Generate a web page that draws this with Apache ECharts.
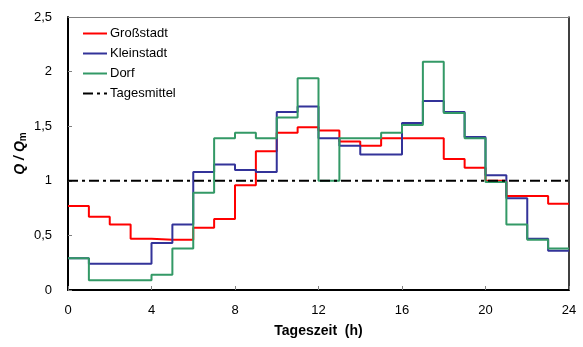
<!DOCTYPE html>
<html>
<head>
<meta charset="utf-8">
<script src="https://cdn.jsdelivr.net/npm/echarts@6/dist/echarts.min.js"></script>
<style>
  html, body { margin: 0; padding: 0; background: #fff; }
  #chart { width: 583px; height: 347px; }
</style>
</head>
<body>
<div id="chart"></div>
<script>
// Stundenwerte Q/Qm, jeweils für die Stunde h .. h+1
const hours = [0, 1, 2, 3, 4, 5, 6, 7, 8, 9, 10, 11, 12, 13, 14, 15, 16, 17, 18, 19, 20, 21, 22, 23];
const grossstadt = [0.77, 0.67, 0.6, 0.47, 0.46, 0.46, 0.57, 0.65, 0.96, 1.27, 1.44, 1.49, 1.46, 1.36, 1.32, 1.39, 1.39, 1.39, 1.2, 1.12, 1.0, 0.86, 0.86, 0.79];
const kleinstadt = [0.29, 0.24, 0.24, 0.24, 0.43, 0.6, 1.08, 1.15, 1.1, 1.08, 1.63, 1.68, 1.39, 1.32, 1.24, 1.24, 1.53, 1.73, 1.63, 1.4, 1.05, 0.84, 0.47, 0.36];
const dorf = [0.29, 0.09, 0.09, 0.09, 0.14, 0.38, 0.89, 1.39, 1.44, 1.39, 1.58, 1.94, 1.0, 1.39, 1.39, 1.44, 1.51, 2.09, 1.62, 1.39, 0.99, 0.6, 0.46, 0.38];
const tagesmittel = 1;
const xTicks = [0, 4, 8, 12, 16, 20, 24];
const yTicks = [0, 0.5, 1, 1.5, 2, 2.5];

// Treppenstufen: Wert gilt bis zur nächsten Stunde, letzter Wert bis 24 Uhr
function steps(values) {
  const pts = hours.map((h, i) => [h, values[i]]);
  pts.push([24, values[values.length - 1]]);
  return pts;
}

const font = "Liberation Sans, Arial, sans-serif";
const chart = echarts.init(document.getElementById("chart"));

chart.setOption({
  animation: false,
  textStyle: { fontFamily: font },
  grid: { left: 68, right: 14, top: 17, bottom: 57 },
  legend: {
    left: 77,
    top: 22,
    orient: "vertical",
    itemWidth: 24,
    itemHeight: 12,
    itemGap: 7,
    itemStyle: { opacity: 0 },
    textStyle: { fontSize: 13, color: "#000", fontFamily: font, padding: [0, 0, 0, -2] },
    data: ["Großstadt", "Kleinstadt", "Dorf", "Tagesmittel"]
  },
  xAxis: [
    {
      type: "value",
      min: xTicks[0],
      max: xTicks[xTicks.length - 1],
      interval: 4,
      name: "Tageszeit  (h)",
      nameLocation: "middle",
      nameGap: 34,
      nameMoveOverlap: false,
      nameTextStyle: { fontSize: 14, fontWeight: "bold", color: "#000" },
      axisLine: { lineStyle: { color: "#000", width: 2 } },
      axisTick: { inside: true, length: 4, lineStyle: { color: "#808080" } },
      axisLabel: { fontSize: 13, color: "#000", margin: 14 },
      splitLine: { show: false }
    },
    {
      type: "value",
      position: "top",
      min: 0,
      max: 24,
      axisLine: { show: true, onZero: false, lineStyle: { color: "#808080", width: 1 } },
      axisTick: { show: false },
      axisLabel: { show: false },
      splitLine: { show: false }
    }
  ],
  yAxis: [
    {
      type: "value",
      min: yTicks[0],
      max: yTicks[yTicks.length - 1],
      interval: 0.5,
      name: "{a|Q / Q}{b|m}",
      nameLocation: "middle",
      nameGap: 40,
      nameRotate: 90,
      nameMoveOverlap: false,
      nameTextStyle: {
        rich: {
          a: { fontSize: 14, fontWeight: "bold", fontStyle: "italic", color: "#000", fontFamily: font },
          b: { fontSize: 10, fontWeight: "bold", color: "#000", fontFamily: font, padding: [6, 0, 0, 0] }
        }
      },
      axisLine: { show: true, lineStyle: { color: "#000", width: 2 } },
      axisTick: { show: true, inside: true, length: 4, lineStyle: { color: "#808080" } },
      axisLabel: {
        fontSize: 13,
        color: "#000",
        margin: 16,
        formatter: v => String(v).replace(".", ",")
      },
      splitLine: { show: false }
    },
    {
      type: "value",
      position: "right",
      min: 0,
      max: 2.5,
      axisLine: { show: true, onZero: false, lineStyle: { color: "#000", width: 1.5 } },
      axisTick: { show: false },
      axisLabel: { show: false },
      splitLine: { show: false }
    }
  ],
  series: [
    {
      name: "Großstadt",
      type: "line",
      step: "end",
      symbol: "none",
      color: "#ff0000",
      lineStyle: { width: 2, color: "#ff0000" },
      data: steps(grossstadt)
    },
    {
      name: "Kleinstadt",
      type: "line",
      step: "end",
      symbol: "none",
      color: "#333399",
      lineStyle: { width: 2, color: "#333399" },
      data: steps(kleinstadt)
    },
    {
      name: "Dorf",
      type: "line",
      step: "end",
      symbol: "none",
      color: "#339966",
      lineStyle: { width: 2, color: "#339966" },
      data: steps(dorf)
    },
    {
      name: "Tagesmittel",
      type: "line",
      symbol: "none",
      color: "#000",
      lineStyle: { width: 2, color: "#000", type: [10, 4, 3, 4] },
      data: [[0, tagesmittel], [24, tagesmittel]]
    }
  ]
});
</script>
</body>
</html>
